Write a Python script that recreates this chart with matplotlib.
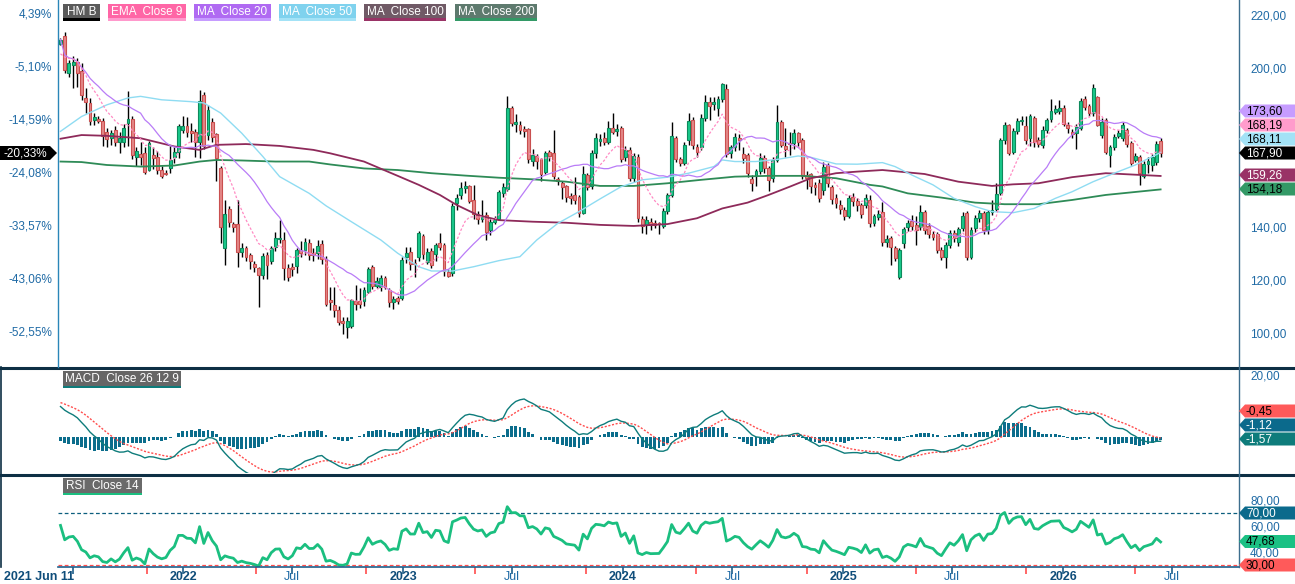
import matplotlib
matplotlib.use("Agg")
import matplotlib.pyplot as plt
from matplotlib.patches import Polygon, Rectangle
from matplotlib.lines import Line2D
import numpy as np
import datetime as dt

plt.rcParams['font.family'] = ['Liberation Sans', 'DejaVu Sans']

# ---------------- data (weekly candles, HM B) ----------------
start_date = dt.date(2021, 6, 11)

opens = [209.2, 212.0, 198.1, 201.0, 202.3, 199.0, 188.8, 186.8, 180.2, 180.5,
         180.1, 176.0, 173.5, 176.7, 171.9, 171.9, 179.2, 180.7, 166.5, 167.6,
         167.9, 161.6, 167.2, 166.6, 161.6, 160.3, 162.2, 166.3, 168.3, 176.7,
         178.0, 175.8, 175.8, 172.0, 189.9, 174.6, 179.7, 175.0, 162.4, 132.0,
         146.7, 141.1, 141.1, 130.4, 131.9, 129.4, 125.9, 124.6, 121.8, 129.3,
         127.3, 132.6, 135.4, 135.1, 124.7, 124.8, 125.2, 131.3, 131.3, 134.1,
         130.3, 130.3, 133.6, 127.8, 112.5, 110.6, 108.7, 104.6, 102.4, 102.6,
         112.2, 112.1, 112.2, 115.6, 125.0, 117.7, 117.5, 120.6, 116.2, 111.8,
         113.3, 113.3, 128.8, 130.7, 126.5, 128.5, 136.6, 126.9, 130.9, 129.7,
         133.8, 133.2, 123.1, 122.5, 149.1, 152.1, 154.6, 155.5, 150.2, 144.9,
         143.0, 144.5, 138.9, 142.0, 143.2, 152.7, 154.2, 184.8, 179.1, 178.5,
         176.8, 176.9, 164.9, 166.8, 165.7, 160.9, 168.2, 167.8, 158.1, 156.7,
         155.5, 151.8, 152.1, 151.4, 145.4, 159.6, 155.5, 167.8, 172.6, 173.5,
         172.2, 177.2, 176.5, 177.2, 166.5, 169.1, 158.6, 166.3, 143.0, 140.8,
         141.8, 141.3, 141.5, 140.4, 146.0, 152.2, 173.5, 165.5, 164.0, 172.8,
         180.4, 170.3, 170.3, 181.0, 187.0, 186.5, 184.8, 188.2, 192.0, 168.1,
         170.1, 173.5, 167.4, 167.0, 158.1, 159.3, 161.3, 166.0, 162.2, 158.4,
         165.3, 179.8, 170.6, 171.8, 171.6, 175.4, 172.8, 159.6, 159.9, 155.9,
         156.5, 153.9, 163.4, 155.2, 150.8, 148.3, 146.4, 144.3, 151.5, 149.8,
         148.3, 148.3, 150.2, 141.4, 143.9, 145.5, 134.2, 135.7, 132.0, 121.3,
         133.8, 139.9, 142.3, 140.8, 140.1, 145.8, 140.4, 137.4, 137.4, 131.3,
         128.6, 133.2, 137.9, 134.2, 139.5, 145.2, 128.6, 139.5, 143.3, 145.2,
         138.9, 145.6, 146.7, 152.7, 172.8, 178.5, 168.4, 176.2, 180.0, 178.1,
         173.5, 181.0, 172.8, 171.0, 176.6, 180.6, 183.8, 184.2, 184.8, 178.5,
         176.0, 175.6, 177.2, 188.2, 185.7, 182.9, 189.0, 174.7, 180.4, 167.1,
         170.1, 174.5, 173.5, 176.6, 171.6, 165.3, 166.3, 159.3, 163.8, 163.4,
         164.6, 172.5]
highs = [211.5, 213.5, 203.0, 204.5, 203.8, 202.0, 192.4, 188.5, 183.0, 181.8,
         181.0, 177.5, 176.5, 178.0, 176.0, 179.0, 191.2, 182.0, 170.0, 172.0,
         170.0, 172.5, 170.0, 168.5, 163.0, 161.5, 170.4, 170.0, 179.0, 182.0,
         181.5, 179.2, 177.0, 191.8, 190.8, 186.0, 181.0, 175.5, 163.0, 150.2,
         148.0, 142.0, 150.2, 134.0, 133.0, 130.0, 127.0, 125.0, 130.0, 130.5,
         133.0, 138.0, 142.7, 138.0, 126.0, 126.5, 132.0, 134.7, 136.0, 135.5,
         132.0, 135.0, 135.0, 129.0, 117.5, 117.5, 110.0, 106.0, 106.0, 113.0,
         118.0, 116.8, 117.5, 125.0, 125.5, 121.0, 122.0, 121.5, 117.0, 114.0,
         114.0, 128.5, 132.5, 132.5, 128.0, 138.5, 137.5, 132.0, 132.0, 134.0,
         137.6, 134.0, 124.0, 149.0, 152.5, 157.0, 157.5, 156.0, 155.8, 146.0,
         150.2, 145.5, 143.0, 144.0, 154.0, 156.5, 189.4, 185.7, 182.5, 180.0,
         178.0, 177.5, 169.5, 167.5, 166.0, 168.5, 169.0, 176.6, 159.0, 157.5,
         156.0, 153.0, 158.9, 152.0, 163.0, 160.5, 169.0, 175.5, 175.0, 176.0,
         180.0, 182.9, 179.0, 178.0, 170.5, 170.0, 168.0, 167.5, 144.0, 144.0,
         143.5, 142.5, 142.0, 147.0, 153.0, 179.8, 174.5, 166.5, 172.0, 183.1,
         181.5, 171.5, 182.5, 189.8, 189.0, 189.0, 189.5, 194.2, 193.8, 171.0,
         175.5, 175.0, 170.0, 168.0, 159.5, 162.0, 168.0, 167.0, 163.0, 166.5,
         186.0, 180.5, 177.5, 176.0, 177.0, 176.0, 173.5, 161.0, 160.5, 157.0,
         158.0, 164.5, 164.0, 156.0, 152.5, 150.0, 147.5, 152.0, 153.0, 151.0,
         149.0, 152.5, 152.0, 145.0, 146.5, 149.6, 137.0, 136.5, 133.0, 132.0,
         140.0, 142.5, 144.5, 144.0, 148.3, 146.5, 141.5, 138.5, 138.0, 132.5,
         134.5, 139.0, 139.0, 140.0, 145.5, 146.2, 140.0, 144.5, 146.5, 146.0,
         146.5, 150.2, 156.5, 173.5, 179.5, 179.0, 177.5, 181.0, 182.0, 182.0,
         182.5, 182.0, 174.0, 178.0, 181.0, 188.2, 186.0, 187.9, 186.0, 179.5,
         177.0, 179.0, 188.5, 189.5, 186.5, 194.0, 189.5, 181.0, 181.0, 171.0,
         175.0, 176.5, 179.5, 177.5, 172.5, 168.0, 167.0, 165.0, 166.5, 167.5,
         172.5, 173.5]
lows = [208.5, 198.0, 196.6, 192.4, 193.0, 188.0, 183.0, 178.5, 178.5, 179.2,
        170.4, 170.0, 171.0, 170.5, 167.8, 170.0, 170.4, 165.5, 163.0, 163.5,
        160.0, 161.0, 162.0, 160.0, 158.5, 159.5, 160.3, 164.0, 166.0, 175.5,
        174.0, 172.0, 166.6, 166.0, 169.5, 173.0, 172.0, 157.2, 133.8, 125.6,
        140.0, 138.0, 125.0, 128.5, 127.0, 124.0, 123.0, 109.8, 120.5, 120.5,
        126.0, 131.0, 134.0, 120.0, 119.8, 121.5, 122.5, 128.5, 129.5, 127.5,
        127.0, 128.0, 126.0, 110.0, 108.5, 106.0, 103.0, 99.5, 98.2, 102.0,
        108.7, 109.5, 110.0, 115.0, 116.5, 116.8, 116.0, 116.5, 109.7, 109.0,
        111.0, 112.5, 126.5, 123.8, 121.3, 127.0, 128.0, 126.0, 124.5, 127.0,
        131.5, 121.5, 121.0, 121.5, 146.5, 150.5, 153.0, 149.0, 143.2, 141.0,
        142.0, 135.0, 137.0, 141.0, 142.5, 151.5, 153.5, 178.0, 176.0, 175.0,
        174.0, 164.0, 163.0, 162.0, 157.5, 160.0, 165.0, 158.0, 156.0, 150.6,
        149.5, 148.5, 148.5, 143.8, 145.0, 154.0, 154.5, 166.0, 170.5, 171.0,
        171.5, 175.0, 174.5, 164.5, 165.0, 157.5, 157.0, 142.0, 137.8, 137.5,
        139.0, 139.5, 137.2, 139.5, 145.0, 151.5, 164.5, 163.0, 163.5, 171.0,
        169.5, 166.5, 169.0, 180.0, 180.5, 184.0, 182.0, 187.0, 166.5, 166.0,
        168.5, 169.0, 164.0, 159.0, 153.5, 155.5, 160.0, 160.5, 153.5, 157.0,
        164.5, 170.0, 166.5, 167.0, 169.5, 170.5, 158.0, 154.5, 153.0, 152.0,
        149.5, 152.0, 155.0, 148.5, 147.0, 145.0, 142.5, 143.5, 148.0, 146.0,
        143.5, 147.0, 140.0, 140.5, 142.5, 133.0, 132.5, 125.7, 127.0, 120.4,
        132.0, 138.5, 139.0, 133.2, 139.0, 137.5, 136.0, 135.0, 130.0, 127.5,
        124.4, 132.0, 134.5, 133.0, 138.5, 127.5, 127.8, 138.0, 142.0, 137.5,
        137.5, 144.5, 146.0, 152.0, 171.5, 167.0, 167.5, 175.0, 178.5, 171.5,
        170.5, 170.0, 170.0, 169.8, 175.5, 179.5, 182.5, 182.5, 178.0, 175.5,
        173.5, 169.3, 176.5, 184.0, 182.0, 182.0, 178.0, 173.5, 167.5, 162.8,
        169.0, 173.5, 172.5, 170.0, 163.5, 164.5, 155.9, 158.5, 160.5, 161.3,
        163.5, 166.5]
closes = [210.75, 199.1, 201.7, 202.3, 198.1, 189.7, 187.2, 180.1, 181.6, 180.3,
          174.4, 173.2, 175.4, 171.9, 173.5, 177.3, 180.7, 167.0, 168.5, 166.6,
          160.9, 171.6, 166.0, 161.6, 159.3, 160.2, 165.3, 168.3, 178.2, 178.2,
          175.8, 175.6, 172.0, 187.4, 170.6, 184.0, 173.8, 166.0, 139.9, 144.8,
          141.8, 139.9, 130.4, 131.9, 128.8, 127.3, 125.0, 121.8, 129.2, 125.6,
          132.2, 135.7, 135.9, 124.7, 121.2, 124.0, 131.3, 130.3, 134.4, 129.4,
          129.5, 132.9, 127.8, 111.0, 111.6, 108.7, 104.3, 103.7, 104.6, 112.4,
          110.8, 110.9, 116.2, 124.0, 117.7, 119.6, 120.6, 117.5, 111.6, 112.8,
          112.2, 127.6, 130.1, 125.9, 125.9, 137.6, 129.7, 130.7, 125.5, 133.2,
          132.6, 123.4, 121.6, 147.9, 150.9, 154.6, 155.5, 149.8, 144.8, 143.0,
          144.3, 138.2, 142.0, 143.2, 153.3, 155.2, 184.8, 179.1, 179.4, 176.6,
          176.5, 165.5, 167.2, 164.9, 159.9, 167.8, 166.8, 159.4, 157.4, 155.2,
          151.5, 150.8, 150.2, 145.2, 159.9, 155.2, 167.8, 173.5, 173.1, 172.2,
          177.2, 176.0, 176.8, 165.5, 169.1, 158.6, 166.8, 143.3, 140.4, 142.6,
          140.8, 140.9, 141.0, 146.0, 152.0, 174.3, 165.5, 164.0, 171.0, 180.0,
          171.0, 168.4, 181.0, 187.0, 185.7, 187.2, 188.2, 193.8, 167.4, 170.1,
          174.1, 172.8, 165.9, 160.3, 156.5, 161.3, 166.0, 162.2, 157.7, 165.3,
          179.8, 171.0, 169.6, 171.2, 175.4, 172.2, 159.2, 158.4, 155.6, 155.0,
          150.8, 162.8, 156.5, 150.6, 148.9, 146.7, 144.3, 150.8, 149.8, 148.3,
          144.8, 151.1, 141.4, 144.2, 144.8, 134.2, 135.3, 132.6, 128.2, 131.3,
          139.1, 141.4, 140.4, 138.9, 145.8, 138.9, 137.4, 136.1, 131.3, 128.6,
          133.2, 137.9, 135.7, 139.1, 144.3, 128.6, 138.9, 143.3, 145.4, 138.9,
          145.8, 146.4, 152.5, 172.8, 178.5, 168.0, 176.4, 180.0, 180.5, 172.8,
          181.9, 172.2, 171.3, 176.6, 180.4, 183.8, 184.2, 184.5, 178.9, 177.2,
          175.1, 177.9, 187.6, 185.2, 182.9, 192.3, 178.5, 179.8, 168.4, 170.1,
          174.1, 175.6, 178.5, 171.3, 164.3, 166.9, 160.3, 163.8, 165.0, 166.3,
          171.3, 167.9]

# long moving averages (week index, value)
ma50_idx = [0, 5, 11, 16, 19, 24, 31, 34, 38, 43, 48, 52, 59, 63, 69, 76, 80, 85, 88, 93,
            98, 104, 109, 113, 118, 123, 128, 133, 138, 144, 149, 155, 157, 160, 165, 170,
            175, 178, 184, 189, 195, 198, 202, 207, 212, 217, 221, 226, 231, 236, 240, 245,
            250, 255, 261]
ma50_val = [176.1, 181.7, 186.1, 188.7, 189.3, 188.0, 187.3, 186.8, 183.0, 175.4, 166.6,
            159.0, 152.7, 148.0, 142.0, 135.1, 130.1, 125.0, 123.4, 123.4, 125.0, 127.3,
            128.8, 135.1, 141.4, 145.8, 150.6, 155.2, 157.8, 158.8, 160.3, 162.8, 165.3,
            164.7, 164.7, 165.5, 166.8, 166.3, 163.8, 163.7, 164.3, 162.8, 159.6, 155.9,
            150.8, 147.7, 145.8, 145.4, 147.0, 150.8, 153.3, 157.1, 160.3, 163.4, 168.11]
ma100_idx = [0, 5, 11, 19, 27, 33, 37, 44, 52, 60, 64, 72, 80, 85, 90, 94, 99, 104, 112,
             120, 128, 136, 144, 151, 157, 163, 168, 173, 178, 184, 189, 195, 205, 213, 221,
             226, 232, 240, 248, 261]
ma100_val = [173.3, 174.7, 174.4, 173.5, 170.4, 169.1, 171.0, 171.3, 170.6, 169.1, 167.8,
             164.7, 159.3, 155.9, 152.1, 148.3, 144.5, 142.6, 142.0, 141.6, 140.8, 140.4,
             141.1, 143.3, 147.0, 149.2, 152.1, 155.2, 158.4, 160.3, 160.9, 161.5, 160.0,
             157.1, 155.5, 156.1, 156.5, 158.8, 160.3, 159.26]
ma200_idx = [0, 5, 11, 19, 27, 33, 37, 43, 51, 59, 64, 72, 80, 88, 96, 104, 112, 120, 128,
             136, 144, 152, 160, 168, 176, 184, 192, 195, 201, 209, 217, 224, 232, 240, 248,
             261]
ma200_val = [164.7, 164.5, 163.4, 162.8, 163.2, 164.7, 165.3, 165.1, 164.7, 164.7, 163.6,
             162.1, 161.5, 160.3, 159.4, 158.6, 158.0, 157.1, 155.5, 155.5, 156.5, 157.8,
             159.0, 159.3, 159.3, 158.4, 155.9, 155.3, 152.7, 151.1, 149.2, 148.6, 148.6,
             150.2, 152.1, 154.18]

# indicator state at the first bar
ema9_seed = 204.0
ema12_seed, ema26_seed, signal_seed = 204.0, 194.0, 11.4
rsi_gain_seed, rsi_loss_seed = 2.6, 1.7

# last values shown in the right-hand tags
main_tag_values = [173.60, 168.19, 168.11, 167.90, 159.26, 154.18]
macd_tag_values = [-0.45, -1.12, -1.57]
rsi_tag_values = [70.00, 47.68, 30.00]
pct_tag_value = -20.33

price_ticks = [100, 120, 140, 160, 180, 200, 220]
price_ticks_visible = [100, 120, 140, 200, 220]   # 160 and 180 sit under the value tags
macd_ticks = [20]
rsi_ticks = [40, 60, 80]
x_first_label = '2021 Jun 11'

# ---------------- indicators ----------------
n = min(len(opens), len(highs), len(lows), len(closes))
O = np.array(opens[:n]); Hh = np.array(highs[:n]); L = np.array(lows[:n]); C = np.array(closes[:n])
x = np.arange(n)
base = C[0]

ema9 = []
e = ema9_seed
for c in C:
    e += (c - e) * 2 / 10
    ema9.append(e)
ma20 = [C[max(0, i - 19):i + 1].mean() for i in range(n)]

e12, e26, sg = ema12_seed, ema26_seed, signal_seed
macd, sig = [], []
for c in C:
    e12 += (c - e12) * 2 / 13
    e26 += (c - e26) * 2 / 27
    m = e12 - e26
    sg += (m - sg) * 2 / 10
    macd.append(m); sig.append(sg)
macd = np.array(macd); sig = np.array(sig); hist = macd - sig

ag, al = rsi_gain_seed, rsi_loss_seed
rsi = []
prev = C[0]
for c in C:
    d = c - prev
    prev = c
    ag = (ag * 13 + max(d, 0)) / 14
    al = (al * 13 + max(-d, 0)) / 14
    rsi.append(100 - 100 / (1 + ag / al))

# ---------------- layout ----------------
W, H = 1295, 584
fig = plt.figure(figsize=(W / 100, H / 100), dpi=100)
fig.patch.set_facecolor('white')

def fx(px): return px / W
def fy(py): return 1 - py / H

XL, XR = 58, 1239
def add_ax(top, bottom):
    return fig.add_axes([fx(XL), fy(bottom), (XR - XL) / W, (bottom - top) / H])

ax = add_ax(0, 366)
axm = add_ax(369, 473)
axr = add_ax(476, 567)

ppw = 4.215
x_left = -(60.5 - XL) / ppw
x_right = (XR - 60.5) / ppw
for a in (ax, axm, axr):
    a.set_xlim(x_left, x_right)
    for s in a.spines.values():
        s.set_visible(False)
    a.set_xticks([])
    a.tick_params(axis='y', length=0, labelsize=8.5, labelcolor='#1f6aa5', pad=8)
    a.yaxis.tick_right()

def price_at(py): return 200 - (py - 68) / 2.65
ax.set_ylim(price_at(366), price_at(0))
axm.set_ylim((436.7 - 473) / 3.08, (436.7 - 369) / 3.08)
axr.set_ylim(30 + (565 - 567) / 1.3, 30 + (565 - 476) / 1.3)

fmt = lambda v: f"{v:.2f}".replace('.', ',')
ax.set_yticks(price_ticks_visible); ax.set_yticklabels([fmt(v) for v in price_ticks_visible])
axm.set_yticks(macd_ticks); axm.set_yticklabels([fmt(v) for v in macd_ticks])
axr.set_yticks(rsi_ticks); axr.set_yticklabels([fmt(v) for v in rsi_ticks])

# left percent labels
for p in price_ticks:
    pct = (p / base - 1) * 100
    ax.text(-0.005, p, f"{pct:.2f}%".replace('.', ','), transform=ax.get_yaxis_transform(),
            ha='right', va='center', fontsize=8.5, color='#1f6aa5', clip_on=False)

# ---------------- candles ----------------
up_face, up_edge = '#19c98b', '#0e8a5c'
dn_face, dn_edge = '#e48888', '#c94f4f'
ax.vlines(x, L, Hh, color='black', lw=1.0, zorder=2)
for i in range(n):
    lo, hi = min(O[i], C[i]), max(O[i], C[i])
    if hi - lo < 0.5:
        lo -= 0.25; hi += 0.25
    up = C[i] >= O[i]
    ax.add_patch(Rectangle((i - 0.34, lo), 0.68, hi - lo,
                           facecolor=up_face if up else dn_face,
                           edgecolor=up_edge if up else dn_edge, lw=0.8, zorder=3))

ax.plot(ma200_idx, ma200_val, color='#2e8b57', lw=1.3, zorder=4)
ax.plot(ma100_idx, ma100_val, color='#8e2a5a', lw=1.3, zorder=4)
ax.plot(ma50_idx, ma50_val, color='#8fdcf2', lw=1.0, zorder=4)
ax.plot(x, ma20, color='#b97cf7', lw=0.9, zorder=4)
ax.plot(x, ema9, color='#ff8ac3', lw=0.9, ls=(0, (2, 1.5)), zorder=4)

# ---------------- MACD ----------------
axm.bar(x, hist, width=0.68, color='#0b6d8c', zorder=2)
axm.plot(x, sig, color='#ff4d4d', lw=1.0, ls=(0, (1.5, 1.2)), zorder=3)
axm.plot(x, macd, color='#0e7c7b', lw=1.0, zorder=4)

# ---------------- RSI ----------------
axr.axhline(70, color='#0b5e7e', lw=0.9, ls=(0, (3, 2)))
axr.axhline(30, color='#ff4d4d', lw=0.9, ls=(0, (3, 2)))
axr.plot(x, rsi, color='#1bbf80', lw=2.0, zorder=3)

# ---------------- x axis ----------------
def widx(d): return (d - start_date).days / 7.0
fig.add_artist(Line2D([fx(XL), fx(XR)], [fy(567), fy(567)], color='#1f5f8b', lw=1.2))
major = [dt.date(y, m, 1) for y in range(2021, 2027) for m in (1, 7)
         if dt.date(2021, 6, 11) < dt.date(y, m, 1) <= dt.date(2026, 7, 1)]
minor = [dt.date(y, m, 1) for y in range(2021, 2027) for m in (5, 11)
         if dt.date(2021, 6, 11) < dt.date(y, m, 1) <= dt.date(2026, 7, 1)]
axr.set_xticks([widx(d) for d in major])
axr.set_xticklabels([])
axr.set_xticks([widx(d) for d in minor], minor=True)
axr.tick_params(axis='x', which='major', length=5, width=1.2, color='#1f5f8b', direction='out')
axr.tick_params(axis='x', which='minor', length=5, width=1.2, color='#ff4d4d', direction='out')
for d in major:
    if d.year == 2021:
        continue
    xp = axr.transData.transform((widx(d), 0))[0]
    if d.month == 1:
        fig.text(xp / W, fy(577.5), str(d.year), fontsize=9, fontweight='bold',
                 color='#0f4d7a', ha='center', va='center')
    else:
        fig.text(xp / W, fy(577.5), 'Jul', fontsize=9, color='#1f6aa5',
                 ha='center', va='center')
fig.text(fx(4), fy(577.5), x_first_label, fontsize=9, fontweight='bold', color='#0f4d7a',
         ha='left', va='center')

# ---------------- frame lines ----------------
fig.add_artist(Line2D([0, 1], [fy(367.5), fy(367.5)], color='#0d2f44', lw=2.2))
fig.add_artist(Line2D([0, 1], [fy(474.5), fy(474.5)], color='#0d2f44', lw=2.2))
fig.add_artist(Line2D([fx(1238.5), fx(1238.5)], [fy(0), fy(567)], color='#3d6e8e', lw=1.0))
fig.add_artist(Line2D([fx(58), fx(58)], [fy(0), fy(367)], color='#2a86b8', lw=1.0))
fig.add_artist(Line2D([fx(0.6), fx(0.6)], [fy(367), fy(567)], color='#0d2f44', lw=1.2))

# ---------------- legend boxes ----------------
def box(x0, x1, y0, y1, face, text, tcol, ucol):
    fig.add_artist(Rectangle((fx(x0), fy(y1)), (x1 - x0) / W, (y1 - y0) / H,
                             transform=fig.transFigure, facecolor=face, edgecolor='none'))
    fig.add_artist(Rectangle((fx(x0), fy(y1 + 2)), (x1 - x0) / W, 2 / H,
                             transform=fig.transFigure, facecolor=ucol, edgecolor='none'))
    fig.text(fx((x0 + x1) / 2), fy((y0 + y1) / 2 + 0.5), text, color=tcol, ha='center',
             va='center', fontsize=8.5)

box(63, 100, 4, 18.5, '#5a5a5a', 'HM B', 'white', '#000000')
box(108, 186, 4, 18.5, '#ff66a6', 'EMA  Close 9', 'white', '#ff99cc')
box(194, 271, 4, 18.5, '#b06af2', 'MA  Close 20', 'white', '#c69cff')
box(279, 356, 4, 18.5, '#7fd2ee', 'MA  Close 50', 'white', '#a3e2f6')
box(364, 446, 4, 18.5, '#705a66', 'MA  Close 100', 'white', '#993366')
box(455, 537, 4, 18.5, '#5e7a6e', 'MA  Close 200', 'white', '#339966')
box(63, 181, 371, 385.5, '#666666', 'MACD  Close 26 12 9', 'white', '#0e7c7b')
box(63, 142, 478, 492.5, '#6a6a6a', 'RSI  Close 14', 'white', '#1bbf80')

# ---------------- value tags ----------------
def rtag(yc, text, face, tcol):
    h = 6.5
    pts = [(1239, yc), (1245, yc - h), (1295, yc - h), (1295, yc + h), (1245, yc + h)]
    fig.add_artist(Polygon([(fx(a), fy(b)) for a, b in pts], closed=True,
                           transform=fig.transFigure, facecolor=face, edgecolor='none',
                           zorder=10))
    fig.text(fx(1246), fy(yc + 0.5), text, color=tcol, ha='left', va='center',
             fontsize=8.5, zorder=11)

main_tag_style = [(111, '#c69cff', 'black'), (125, '#ff9ccc', 'black'),
                  (139, '#a3e2f6', 'black'), (153, '#000000', 'white'),
                  (175, '#993366', 'white'), (189, '#339966', 'black')]
for v, (yc, face, tc) in zip(main_tag_values, main_tag_style):
    rtag(yc, fmt(v), face, tc)
macd_tag_style = [(411, '#ff5a5a', 'black'), (425, '#0b6a8c', 'white'),
                  (439, '#0e7c7b', 'white')]
for v, (yc, face, tc) in zip(macd_tag_values, macd_tag_style):
    rtag(yc, fmt(v), face, tc)
rsi_tag_style = [(513, '#0b6a8c', 'white'), (541.5, '#1bc184', 'black'),
                 (565, '#ff5a5a', 'black')]
for v, (yc, face, tc) in zip(rsi_tag_values, rsi_tag_style):
    rtag(yc, fmt(v), face, tc)

# left percent tag
yc = 153
pts = [(0, yc - 7), (50, yc - 7), (57, yc), (50, yc + 7), (0, yc + 7)]
fig.add_artist(Polygon([(fx(a), fy(b)) for a, b in pts], closed=True,
                       transform=fig.transFigure, facecolor='black', edgecolor='none', zorder=10))
fig.text(fx(4), fy(yc + 0.5), f"{pct_tag_value:.2f}%".replace('.', ','), color='white',
         ha='left', va='center', fontsize=8.5, zorder=11)

fig.savefig('out.png', dpi=100)
